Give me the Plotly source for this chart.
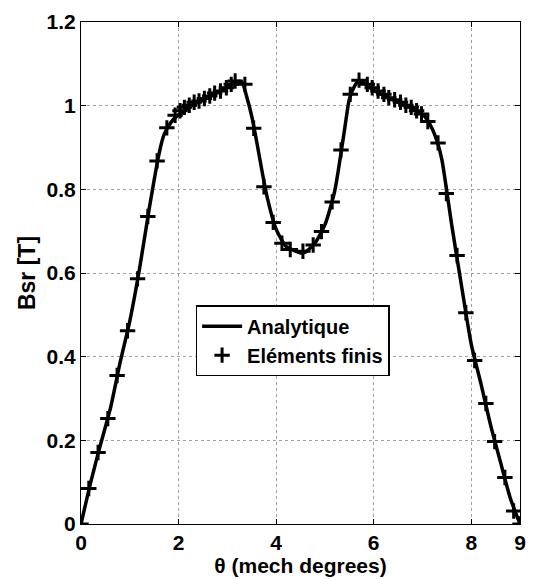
import plotly.graph_objects as go

# Analytical solution: radial flux density vs mechanical angle
theta_analytic = [0.0, 0.2, 0.4, 0.6, 0.8, 1.0, 1.2, 1.4, 1.6, 1.7, 1.8, 1.9, 2.0,
                  2.2, 2.4, 2.6, 2.8, 3.0, 3.1, 3.2, 3.3, 3.4, 3.5, 3.6, 3.8, 4.0,
                  4.2, 4.4, 4.5, 4.6, 4.8, 5.0, 5.2, 5.4, 5.5, 5.6, 5.7, 5.8, 6.0,
                  6.2, 6.4, 6.6, 6.8, 7.0, 7.1, 7.2, 7.3, 7.4, 7.6, 7.8, 8.0, 8.2,
                  8.4, 8.6, 8.8, 9.0]
bsr_analytic = [0.0, 0.10, 0.19, 0.275, 0.385, 0.485, 0.61, 0.755, 0.885, 0.93,
                0.952, 0.968, 0.978, 0.995, 1.009, 1.021, 1.032, 1.045, 1.052,
                1.058, 1.056, 1.02, 0.975, 0.915, 0.79, 0.705, 0.664, 0.652,
                0.648, 0.650, 0.672, 0.715, 0.795, 0.94, 1.015, 1.045, 1.060,
                1.054, 1.037, 1.025, 1.014, 1.003, 0.993, 0.980, 0.966, 0.945,
                0.915, 0.87, 0.715, 0.57, 0.43, 0.335, 0.235, 0.148, 0.062, 0.0]

# Finite element results
theta_fe = [0.0, 0.16, 0.35, 0.55, 0.74, 0.955, 1.16, 1.37, 1.56, 1.76, 1.93,
            2.03, 2.12, 2.22, 2.32, 2.42, 2.53, 2.64, 2.74, 2.86, 2.98, 3.08,
            3.16, 3.36, 3.54, 3.75, 3.94, 4.12, 4.29, 4.55, 4.76, 4.93, 5.15,
            5.33, 5.52, 5.70, 5.87, 5.97, 6.09, 6.21, 6.31, 6.43, 6.55, 6.66,
            6.77, 6.88, 6.98, 7.11, 7.32, 7.49, 7.71, 7.89, 8.07, 8.30, 8.48,
            8.69, 8.87, 9.0]
bsr_fe = [0.0, 0.085, 0.171, 0.252, 0.355, 0.462, 0.586, 0.735, 0.868, 0.947,
          0.977, 0.988, 0.996, 1.001, 1.008, 1.011, 1.017, 1.023, 1.030, 1.035,
          1.043, 1.051, 1.059, 1.051, 0.946, 0.806, 0.721, 0.671, 0.656, 0.652,
          0.667, 0.699, 0.770, 0.894, 1.027, 1.061, 1.051, 1.043, 1.035, 1.027,
          1.019, 1.014, 1.008, 1.001, 0.996, 0.988, 0.980, 0.962, 0.911, 0.790,
          0.642, 0.505, 0.391, 0.288, 0.197, 0.111, 0.031, 0.0]

x_ticks = [0, 2, 4, 6, 8, 9]
y_ticks = [0, 0.2, 0.4, 0.6, 0.8, 1.0, 1.2]
y_tick_text = ["0", "0.2", "0.4", "0.6", "0.8", "1", "1.2"]

FONT = "Liberation Sans, Arial, sans-serif"

fig = go.Figure()
fig.add_trace(go.Scatter(
    x=theta_analytic, y=bsr_analytic, mode="lines", name="Analytique",
    line=dict(color="black", width=3.5, shape="spline", smoothing=0.6),
))
fig.add_trace(go.Scatter(
    x=theta_fe, y=bsr_fe, mode="markers", name="Eléments finis",
    marker=dict(symbol="cross-thin", size=11, color="black",
                line=dict(color="black", width=3)),
))

axis_common = dict(
    showline=True, linecolor="black", linewidth=1, mirror="allticks",
    ticks="inside", ticklen=5, tickcolor="black",
    showgrid=True, gridcolor="#a0a0a0", griddash="dot", gridwidth=1,
    zeroline=False,
    tickfont=dict(family=FONT, size=21, color="black", weight="bold"),
)

fig.update_xaxes(
    range=[0, 9], tickvals=x_ticks, ticktext=[str(t) for t in x_ticks],
    title=dict(text="θ (mech degrees)", standoff=2,
               font=dict(family=FONT, size=21, color="black", weight="bold")),
    **axis_common,
)
fig.update_yaxes(
    range=[0, 1.2], tickvals=y_ticks, ticktext=y_tick_text,
    title=dict(text="Bsr [T]", standoff=4,
               font=dict(family=FONT, size=23, color="black", weight="bold")),
    **axis_common,
)

fig.update_layout(
    width=534, height=579,
    margin=dict(l=81, r=8, t=22, b=51),
    paper_bgcolor="white", plot_bgcolor="white",
    showlegend=True,
    legend=dict(
        x=0.261, y=0.436, xanchor="left", yanchor="top",
        bgcolor="white", bordercolor="black", borderwidth=1.5,
        font=dict(family=FONT, size=20, color="black", weight="bold"),
        tracegroupgap=0, itemwidth=40,
    ),
)

fig.write_html("out.html")
